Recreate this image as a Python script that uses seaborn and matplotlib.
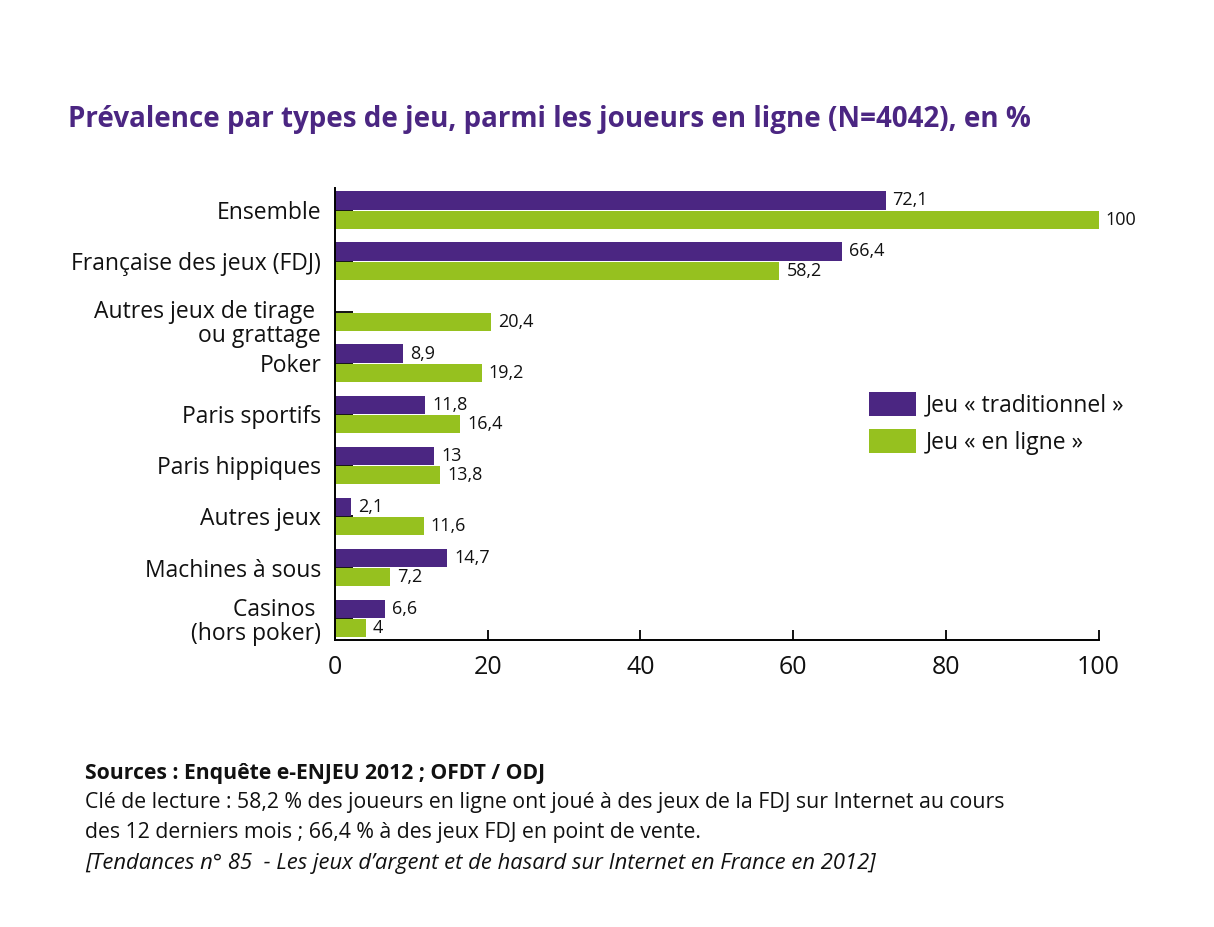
import matplotlib.pyplot as plt
import matplotlib.transforms as mtransforms
import numpy as np
import pandas as pd
import seaborn as sns

categories = ['Ensemble', 'Française des jeux (FDJ)', 'Autres jeux de tirage \nou grattage', 'Poker',
              'Paris sportifs', 'Paris hippiques', 'Autres jeux', 'Machines à sous', 'Casinos \n(hors poker)']
traditionnel = [72.1, 66.4, np.nan, 8.9, 11.8, 13, 2.1, 14.7, 6.6]
en_ligne = [100, 58.2, 20.4, 19.2, 16.4, 13.8, 11.6, 7.2, 4]
series = ['Jeu « traditionnel »', 'Jeu « en ligne »']
xticks = [0, 20, 40, 60, 80, 100]

purple = '#4B2682'
green = '#96C11F'

sns.set_theme(style='white')
plt.rcParams['font.family'] = ['Open Sans', 'DejaVu Sans']

df = pd.DataFrame({
    'cat': categories * 2,
    'val': traditionnel + en_ligne,
    'serie': [series[0]] * len(categories) + [series[1]] * len(categories),
})

fig = plt.figure(figsize=(12.14, 9.27), dpi=100)
ax = fig.add_axes([0.276, 0.3096, 0.6289, 0.4874])

sns.barplot(ax=ax, data=df, y='cat', x='val', hue='serie', order=categories, hue_order=series,
            palette=[purple, green], orient='h', width=0.76, gap=0.06, saturation=1,
            errorbar=None, linewidth=0)

for cont in ax.containers:
    labels = []
    for b in cont:
        w = b.get_width()
        if np.isnan(w) or w == 0:
            labels.append('')
        else:
            labels.append(('%g' % w).replace('.', ','))
    ax.bar_label(cont, labels=labels, padding=5, fontsize=13, color='#111111')

ax.set_xlim(0, 100)
ax.set_ylim(8.42, -0.43)
ax.set_xticks(xticks)
ax.set_xticklabels([str(t) for t in xticks], fontsize=18, color='#111111')
ax.tick_params(axis='x', direction='in', length=7, width=1.3, color='black', pad=11, bottom=True)
ax.tick_params(axis='y', direction='in', length=13, width=1.3, color='black', pad=10, left=True,
               labelsize=16.5, labelcolor='#111111')
for i, lbl in enumerate(ax.get_yticklabels()):
    lbl.set_linespacing(1.0)
    if i == 2:
        lbl.set_transform(lbl.get_transform() + mtransforms.ScaledTranslation(0, -9 / 100, fig.dpi_scale_trans))
ax.set_xlabel(None)
ax.set_ylabel(None)
for s in ['top', 'right']:
    ax.spines[s].set_visible(False)
for s in ['left', 'bottom']:
    ax.spines[s].set_color('black')
    ax.spines[s].set_linewidth(1.4)

ax.legend(loc='upper left', bbox_to_anchor=(0.706, 0.590), bbox_transform=fig.transFigure,
          frameon=False, fontsize=16.5, handlelength=2.05, handleheight=1.25, handletextpad=0.45,
          labelspacing=0.5, borderpad=0, labelcolor='#111111')

fig.text(0.056, 0.863, 'Prévalence par types de jeu, parmi les joueurs en ligne (N=4042), en %',
         fontsize=20, fontweight='bold', color=purple, va='baseline')

fig.text(0.070, 0.160, 'Sources : Enquête e-ENJEU 2012 ; OFDT / ODJ', fontsize=15.2,
         fontweight='bold', color='#111111', va='baseline')
fig.text(0.070, 0.128, 'Clé de lecture : 58,2 % des joueurs en ligne ont joué à des jeux de la FDJ sur Internet au cours',
         fontsize=15.3, color='#111111', va='baseline')
fig.text(0.070, 0.096, 'des 12 derniers mois ; 66,4 % à des jeux FDJ en point de vente.',
         fontsize=15.3, color='#111111', va='baseline')
fig.text(0.070, 0.063, '[Tendances n° 85  - Les jeux d’argent et de hasard sur Internet en France en 2012]',
         fontsize=15.8, style='italic', color='#111111', va='baseline')

plt.savefig('out.png', dpi=100)
